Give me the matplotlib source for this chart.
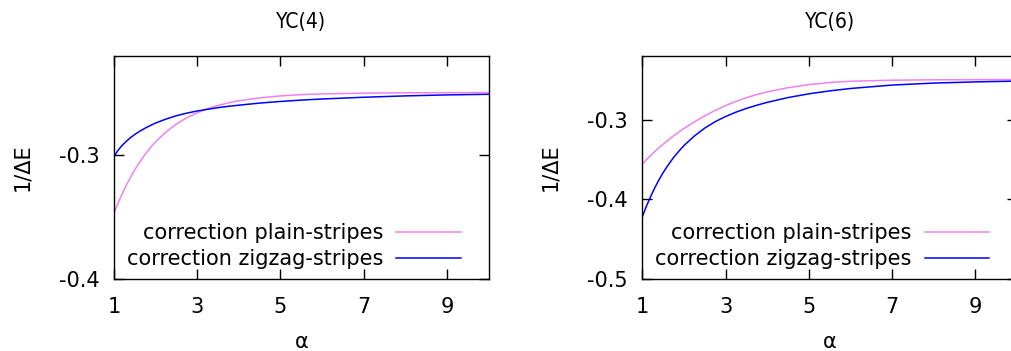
import numpy as np
import matplotlib
matplotlib.use("Agg")
import matplotlib.pyplot as plt

plt.rcParams["font.family"] = ["DejaVu Sans"]
plt.rcParams["axes.unicode_minus"] = False

# values (alpha on x, 1/dE on y)
alpha = [1, 1.05, 1.1, 1.2, 1.3, 1.4, 1.5, 1.6, 1.75, 1.9, 2, 2.25, 2.5, 2.75,
         3, 3.25, 3.5, 3.75, 4, 4.5, 5, 5.5, 6, 7, 8, 9, 10]

yc4_plain = [-0.3470, -0.3427, -0.3386, -0.3310, -0.3240, -0.3177, -0.3118, -0.3065,
             -0.2993, -0.2931, -0.2893, -0.2813, -0.2749, -0.2698, -0.2658, -0.2625,
             -0.2599, -0.2578, -0.2561, -0.2538, -0.2522, -0.2512, -0.2506, -0.2500,
             -0.2497, -0.2496, -0.2495]
yc4_zigzag = [-0.3016, -0.2985, -0.2960, -0.2920, -0.2887, -0.2858, -0.2833, -0.2811,
              -0.2782, -0.2757, -0.2741, -0.2709, -0.2682, -0.2661, -0.2644, -0.2630,
              -0.2617, -0.2606, -0.2597, -0.2580, -0.2567, -0.2556, -0.2547, -0.2533,
              -0.2522, -0.2514, -0.2509]

yc6_plain = [-0.3555, -0.3528, -0.3501, -0.3449, -0.3399, -0.3352, -0.3307, -0.3265,
             -0.3203, -0.3147, -0.3111, -0.3027, -0.2952, -0.2884, -0.2822, -0.2769,
             -0.2723, -0.2684, -0.2651, -0.2598, -0.2560, -0.2533, -0.2517, -0.2504,
             -0.2499, -0.2497, -0.2496]
yc6_zigzag = [-0.4220, -0.4150, -0.4085, -0.3965, -0.3855, -0.3755, -0.3665, -0.3585,
              -0.3475, -0.3382, -0.3325, -0.3205, -0.3105, -0.3025, -0.2960, -0.2905,
              -0.2858, -0.2818, -0.2782, -0.2722, -0.2675, -0.2638, -0.2608, -0.2565,
              -0.2540, -0.2525, -0.2515]

titles = ["YC(4)", "YC(6)"]
ylims = [(-0.4, -0.22), (-0.5, -0.22)]
yticks = [[-0.4, -0.3], [-0.5, -0.4, -0.3]]
xticks = [1, 3, 5, 7, 9]

fs = 15
fig = plt.figure(figsize=(10.11, 3.51), dpi=100)
W, H = 1011, 351
boxes = [(114, 488.5), (642.3, 1017)]
top, bottom = 56, 279

panels = [(yc4_plain, yc4_zigzag), (yc6_plain, yc6_zigzag)]
for i, (plain, zigzag) in enumerate(panels):
    x0, x1 = boxes[i]
    ax = fig.add_axes([x0 / W, (H - bottom) / H, (x1 - x0) / W, (bottom - top) / H])
    ax.plot(alpha, plain, color="violet", lw=1.1, label="correction plain-stripes")
    ax.plot(alpha, zigzag, color="blue", lw=1.1, label="correction zigzag-stripes")
    ax.set_xlim(1, 10)
    ax.set_ylim(*ylims[i])
    ax.set_xticks(xticks)
    ax.set_yticks(yticks[i])
    ax.set_yticklabels(["%.1f" % v for v in yticks[i]])
    ax.tick_params(direction="in", top=True, right=True, length=7, width=1,
                   labelsize=fs)
    ax.tick_params(axis="y", pad=10.5)
    ax.tick_params(axis="x", pad=13)
    for s in ax.spines.values():
        s.set_linewidth(1.0)

    ax.set_title(titles[i], fontsize=fs, fontstretch="condensed",
                 y=1 + 34 / 223, va="center", pad=0)
    ax.set_xlabel("α", fontsize=fs)
    ax.xaxis.label.set_va("center")
    ax.xaxis.set_label_coords(0.5, -63 / 223)
    ax.set_ylabel("1/ΔE", fontsize=fs)
    ax.yaxis.label.set_va("center")
    ax.yaxis.set_label_coords(-92 / 374.5, 0.5)

    ax.legend(loc="lower right", bbox_to_anchor=(0.9266, 0.044), frameon=False,
              markerfirst=False, fontsize=fs, handlelength=3.1, handletextpad=0.65,
              labelspacing=0.3, borderpad=0, borderaxespad=0)

fig.savefig("out.png", dpi=100)
